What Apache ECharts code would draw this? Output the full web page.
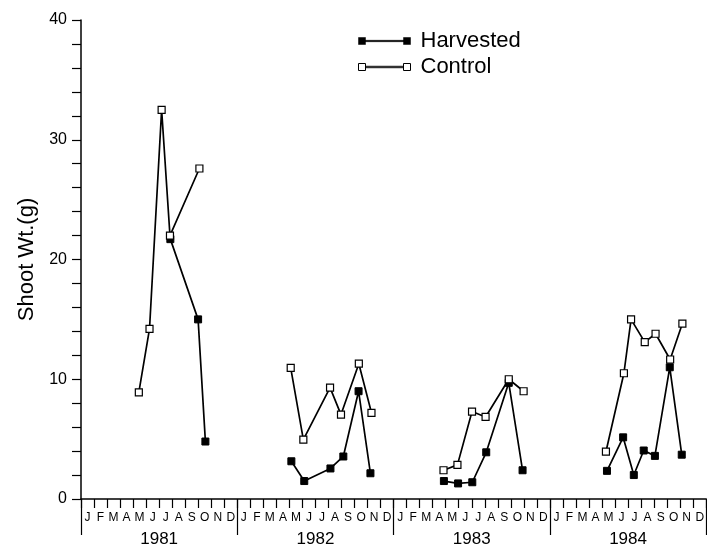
<!DOCTYPE html>
<html>
<head>
<meta charset="utf-8">
<script src="https://cdn.jsdelivr.net/npm/echarts@6/dist/echarts.min.js"></script>
<style>
  html, body { margin: 0; padding: 0; background: #fff; }
  #main { width: 707px; height: 548px; }
</style>
</head>
<body>
<div id="main"></div>
<script>
// axis labels
var years = ['1981', '1982', '1983', '1984'];
var monthLetters = ['J', 'F', 'M', 'A', 'M', 'J', 'J', 'A', 'S', 'O', 'N', 'D'];

// sampling dates, in months counted from 1 Jan 1981, one list per year
var harvMonth = [
	[6.86, 8.99, 9.55],
	[16.15, 17.14, 19.15, 20.14, 21.31, 22.22],
	[27.86, 28.95, 30.04, 31.11, 32.84, 33.90],
	[40.38, 41.62, 42.44, 43.20, 44.06, 45.20, 46.12]
];
var harvWt = [
	[21.7, 15.0, 4.8],
	[3.15, 1.5, 2.55, 3.55, 9.0, 2.15],
	[1.5, 1.3, 1.4, 3.9, 9.7, 2.4],
	[2.35, 5.15, 2.0, 4.05, 3.6, 11.0, 3.7]
];
var ctrlMonth = [
	[4.44, 5.26, 6.19, 6.83, 9.09],
	[16.10, 17.07, 19.12, 19.96, 21.33, 22.30],
	[27.83, 28.90, 30.02, 31.06, 32.84, 33.98],
	[40.30, 41.68, 42.23, 43.28, 44.11, 45.23, 46.17]
];
var ctrlWt = [
	[8.9, 14.2, 32.5, 22.0, 27.6],
	[10.95, 4.95, 9.3, 7.05, 11.3, 7.2],
	[2.4, 2.85, 7.3, 6.85, 10.0, 9.0],
	[3.95, 10.5, 15.0, 13.1, 13.8, 11.65, 14.65]
];

var allMonths = [];
for (var y = 0; y < years.length; y++) {
	for (var m = 0; m < 12; m++) allMonths.push(monthLetters[m]);
}

function pairs(xs, ys) {
	var out = [];
	for (var i = 0; i < xs.length; i++) out.push([xs[i], ys[i]]);
	return out;
}

var font = 'Liberation Sans, Arial, sans-serif';
var series = [];
for (var i = 0; i < years.length; i++) {
	series.push({
		name: 'Harvested',
		type: 'line',
		xAxisIndex: 2,
		symbol: 'rect',
		symbolSize: 7,
		lineStyle: { color: '#000', width: 1.7 },
		itemStyle: { color: '#000', borderColor: '#000', borderWidth: 1 },
		data: pairs(harvMonth[i], harvWt[i])
	});
	series.push({
		name: 'Control',
		type: 'line',
		xAxisIndex: 2,
		symbol: 'rect',
		symbolSize: 7,
		z: 3,
		lineStyle: { color: '#000', width: 1.7 },
		itemStyle: { color: '#fff', borderColor: '#000', borderWidth: 1.2 },
		data: pairs(ctrlMonth[i], ctrlWt[i])
	});
}

var legendIcon = 'path://M0,0h7v7h-7z M7,2.8h38v1.4h-38z M45,0h7v7h-7z';

var myChart = echarts.init(document.getElementById('main'));
var option = {
	backgroundColor: '#fff',
	animation: false,
	textStyle: { fontFamily: font, color: '#000' },
	legend: {
		orient: 'vertical',
		left: 353,
		top: 25,
		itemGap: 4,
		itemWidth: 52,
		itemHeight: 7,
		textStyle: { fontSize: 22, color: '#000', fontFamily: font, padding: [0, 0, 0, 5] },
		data: [
			{ name: 'Harvested', icon: legendIcon, itemStyle: { color: '#000', borderColor: '#000', borderWidth: 0.5 } },
			{ name: 'Control', icon: legendIcon, itemStyle: { color: '#fff', borderColor: '#000', borderWidth: 1 } }
		]
	},
	grid: {
		left: 81,
		top: 20,
		width: 630,
		height: 479,
		containLabel: false
	},
	xAxis: [{
		// month letters
		type: 'category',
		data: allMonths,
		boundaryGap: true,
		axisLine: { show: true, lineStyle: { color: '#000', width: 1.5 } },
		axisTick: { show: true, interval: 0, length: 9, lineStyle: { color: '#000', width: 1.2 } },
		axisLabel: { interval: 0, margin: 13, fontSize: 12, color: '#000', fontFamily: font },
		splitLine: { show: false }
	}, {
		// years
		type: 'category',
		data: years,
		position: 'bottom',
		boundaryGap: true,
		axisLine: { show: false },
		axisTick: { show: true, length: 36, lineStyle: { color: '#000', width: 1.2 } },
		axisLabel: { margin: 32, fontSize: 17, color: '#000', fontFamily: font },
		splitLine: { show: false }
	}, {
		// numeric month scale for the data
		type: 'value',
		min: 0,
		max: 48,
		show: false,
		splitLine: { show: false }
	}],
	yAxis: {
		type: 'value',
		min: 0,
		max: 40,
		interval: 10,
		name: 'Shoot Wt.(g)',
		nameLocation: 'middle',
		nameGap: 43,
		nameTextStyle: { fontSize: 22, color: '#000', fontFamily: font },
		axisLine: { show: true, lineStyle: { color: '#000', width: 1.5 } },
		axisTick: { show: true, length: 9, lineStyle: { color: '#000', width: 1.2 } },
		minorTick: { show: true, splitNumber: 5, length: 9, lineStyle: { color: '#000', width: 1.2 } },
		axisLabel: { fontSize: 16, margin: 14, color: '#000', fontFamily: font },
		splitLine: { show: false }
	},
	series: series
};
myChart.setOption(option);
</script>
</body>
</html>
